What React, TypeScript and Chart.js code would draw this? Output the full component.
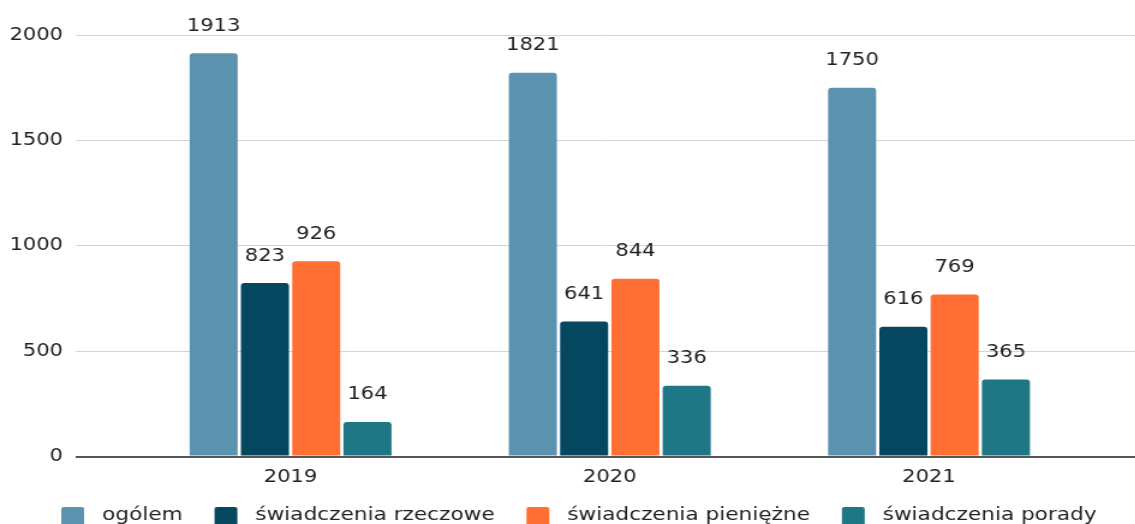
import React, { useEffect, useRef } from 'react';
import { Chart, registerables } from 'chart.js';

Chart.register(...registerables);

// ---- data ----
const YEARS = ['2019', '2020', '2021'];
const SERIES_NAMES = ['ogólem', 'świadczenia rzeczowe', 'świadczenia pieniężne', 'świadczenia porady'];
const OGOLEM = [1913, 1821, 1750];
const RZECZOWE = [823, 641, 616];
const PIENIEZNE = [926, 844, 769];
const PORADY = [164, 336, 365];
const Y_TICKS = [0, 500, 1000, 1500, 2000];

// ---- style ----
const COLORS = ['#5B93AF', '#04475F', '#FF6F33', '#1F7684'];
const X_MIN = 0.325;
const X_MAX = 3.649;
const STRETCH = 1.2;
const W = 1135 / STRETCH;
const H = 534;
const FONT = 17.5;
const LEGEND_FONT = 18;
const SWATCH_W = 43;
const FAMILY = "'DejaVu Sans', sans-serif";

function swatch(color: string) {
  const c = document.createElement('canvas');
  c.width = SWATCH_W;
  c.height = 24;
  const g = c.getContext('2d')!;
  g.fillStyle = color;
  g.beginPath();
  (g as any).roundRect(SWATCH_W - 25, 4, 19, 19, 2);
  g.fill();
  return c;
}

const valueLabels = {
  id: 'valueLabels',
  afterDatasetsDraw(chart: any) {
    const ctx = chart.ctx;
    ctx.save();
    ctx.font = `${FONT}px ${FAMILY}`;
    ctx.fillStyle = '#222';
    ctx.textAlign = 'center';
    ctx.textBaseline = 'middle';
    chart.data.datasets.forEach((ds: any, i: number) => {
      const meta = chart.getDatasetMeta(i);
      meta.data.forEach((bar: any, j: number) => {
        ctx.fillText(String(ds.data[j].y), bar.x, bar.y - 27);
      });
    });
    ctx.restore();
  },
};

export default function App() {
  const ref = useRef<HTMLCanvasElement>(null);

  useEffect(() => {
    const series = [OGOLEM, RZECZOWE, PIENIEZNE, PORADY];
    const swatches = COLORS.map(swatch);
    const chart = new Chart(ref.current!, {
      type: 'bar',
      data: {
        datasets: series.map((vals, i) => ({
          label: SERIES_NAMES[i],
          data: vals.map((v, j) => ({ x: j + 1, y: v })),
          backgroundColor: COLORS[i],
          borderRadius: 3,
          borderSkipped: 'start',
          categoryPercentage: 0.6426,
          barPercentage: 0.937,
        })),
      },
      options: {
        animation: false,
        responsive: true,
        maintainAspectRatio: false,
        layout: { padding: { top: 35, left: 0, right: 0, bottom: 0 } },
        font: { family: FAMILY, size: FONT },
        color: '#222',
        scales: {
          x: {
            type: 'linear',
            min: X_MIN,
            max: X_MAX,
            offset: false,
            afterBuildTicks: (s: any) => {
              s.ticks = YEARS.map((_, i) => ({ value: i + 1 }));
            },
            ticks: {
              autoSkip: false,
              maxRotation: 0,
              padding: 10,
              color: '#222',
              font: { family: FAMILY, size: FONT },
              callback: (v: any) => YEARS[Math.round(v) - 1] ?? '',
            },
            grid: { display: false, drawTicks: false },
            border: { display: false },
          },
          y: {
            min: 0,
            max: 2000,
            afterBuildTicks: (s: any) => {
              s.ticks = Y_TICKS.map((v) => ({ value: v }));
            },
            afterFit: (s: any) => {
              s.width = 62.5;
            },
            ticks: {
              padding: 10,
              color: '#222',
              font: { family: FAMILY, size: FONT },
              callback: (v: any) => String(v),
            },
            grid: {
              drawTicks: false,
              color: (c: any) => (c.tick && c.tick.value === 0 ? '#555555' : '#d4d4d4'),
              lineWidth: (c: any) => (c.tick && c.tick.value === 0 ? 2 : 1),
            },
            border: { display: false },
          },
        },
        plugins: {
          legend: {
            position: 'bottom',
            labels: {
              usePointStyle: true,
              pointStyleWidth: SWATCH_W,
              padding: 8.5,
              color: '#222',
              font: { family: FAMILY, size: LEGEND_FONT },
              generateLabels: (ch: any) =>
                Chart.defaults.plugins.legend.labels
                  .generateLabels(ch)
                  .map((l: any, i: number) => ({ ...l, pointStyle: swatches[i] })),
            },
          },
          tooltip: { enabled: false },
        },
      } as any,
      plugins: [valueLabels],
    });
    return () => chart.destroy();
  }, []);

  return (
    <div style={{ position: 'fixed', left: 0, top: 0, width: 1135, height: 524, overflow: 'hidden', background: '#fff' }}>
      <div
        style={{
          position: 'absolute',
          left: 0,
          top: 0,
          width: W,
          height: H,
          transform: `scaleX(${STRETCH})`,
          transformOrigin: '0 0',
        }}
      >
        <canvas ref={ref} />
      </div>
    </div>
  );
}
